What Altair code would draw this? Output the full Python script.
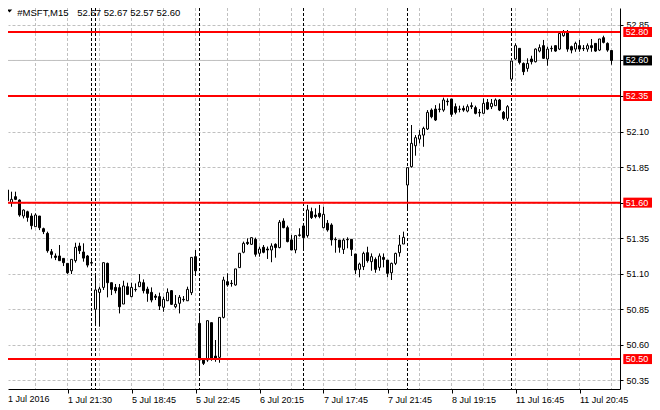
import altair as alt
import pandas as pd

# ---------------- data ----------------
opens = [51.607, 51.689, 51.600, 51.642, 51.618, 51.506, 51.536, 51.506, 51.431, 51.506,
         51.417, 51.384, 51.255, 51.225, 51.225, 51.208, 51.173, 51.121, 51.192, 51.295,
         51.253, 51.225, 51.178, 50.850, 50.969, 51.004, 51.173, 51.037, 51.004, 51.002,
         50.887, 51.009, 50.939, 50.990, 51.009, 51.037, 50.992, 50.969, 50.943, 50.939,
         50.864, 50.910, 50.981, 50.868, 50.892, 50.920, 50.910, 50.967, 51.220, 50.751,
         50.493, 50.493, 50.756, 50.521, 50.512, 50.793, 51.044, 51.033, 51.021, 51.143,
         51.251, 51.321, 51.307, 51.342, 51.244, 51.286, 51.274, 51.267, 51.307, 51.284,
         51.471, 51.424, 51.338, 51.267, 51.373, 51.436, 51.368, 51.537, 51.513, 51.525,
         51.424, 51.455, 51.443, 51.342, 51.337, 51.271, 51.342, 51.342, 51.239, 51.131,
         51.150, 51.248, 51.185, 51.201, 51.145, 51.215, 51.196, 51.107, 51.173, 51.248,
         51.309, 51.724, 51.853, 52.000, 52.047, 52.075, 52.118, 52.251, 52.258, 52.258,
         52.251, 52.314, 52.329, 52.275, 52.258, 52.263, 52.244, 52.282, 52.268, 52.235,
         52.228, 52.305, 52.275, 52.282, 52.322, 52.235, 52.193, 52.469, 52.610, 52.685,
         52.579, 52.544, 52.610, 52.591, 52.666, 52.704, 52.610, 52.685, 52.704, 52.680,
         52.774, 52.797, 52.697, 52.680, 52.704, 52.685, 52.680, 52.704, 52.720, 52.673,
         52.760, 52.720, 52.670]
highs = [51.700, 51.693, 51.677, 51.677, 51.623, 51.553, 51.543, 51.525, 51.525, 51.506,
         51.424, 51.396, 51.274, 51.243, 51.302, 51.208, 51.173, 51.201, 51.318, 51.318,
         51.314, 51.232, 51.196, 51.098, 51.009, 51.178, 51.178, 51.037, 51.028, 51.028,
         51.051, 51.037, 51.037, 51.032, 51.098, 51.060, 51.009, 51.004, 50.957, 50.967,
         50.939, 50.997, 50.985, 50.950, 50.950, 50.943, 51.009, 51.215, 51.267, 50.817,
         50.505, 50.770, 50.756, 50.634, 50.793, 51.079, 51.103, 51.056, 51.134, 51.244,
         51.326, 51.349, 51.354, 51.354, 51.291, 51.302, 51.291, 51.314, 51.314, 51.478,
         51.490, 51.438, 51.373, 51.368, 51.420, 51.436, 51.584, 51.565, 51.560, 51.584,
         51.572, 51.478, 51.455, 51.356, 51.337, 51.349, 51.356, 51.342, 51.239, 51.178,
         51.255, 51.290, 51.243, 51.215, 51.243, 51.243, 51.196, 51.178, 51.248, 51.372,
         51.396, 51.846, 52.146, 52.075, 52.111, 52.134, 52.251, 52.263, 52.286, 52.298,
         52.338, 52.333, 52.329, 52.298, 52.282, 52.282, 52.291, 52.305, 52.282, 52.258,
         52.333, 52.329, 52.329, 52.333, 52.329, 52.244, 52.286, 52.596, 52.720, 52.685,
         52.586, 52.615, 52.633, 52.685, 52.713, 52.744, 52.697, 52.704, 52.704, 52.790,
         52.814, 52.814, 52.704, 52.732, 52.744, 52.708, 52.720, 52.751, 52.720, 52.751,
         52.774, 52.727, 52.670]
lows = [51.529, 51.600, 51.571, 51.618, 51.501, 51.489, 51.466, 51.412, 51.431, 51.407,
        51.379, 51.248, 51.208, 51.196, 51.192, 51.154, 51.098, 51.098, 51.178, 51.239,
        51.185, 51.145, 51.161, 50.732, 50.728, 50.986, 50.934, 50.950, 50.962, 50.821,
        50.887, 50.950, 50.934, 50.974, 51.009, 50.962, 50.903, 50.899, 50.915, 50.845,
        50.833, 50.910, 50.880, 50.857, 50.821, 50.903, 50.910, 50.950, 51.084, 50.388,
        50.458, 50.481, 50.488, 50.481, 50.474, 50.786, 51.009, 51.009, 51.016, 51.143,
        51.244, 51.302, 51.302, 51.220, 51.220, 51.244, 51.204, 51.181, 51.213, 51.279,
        51.420, 51.321, 51.267, 51.244, 51.361, 51.274, 51.354, 51.485, 51.490, 51.490,
        51.420, 51.396, 51.298, 51.248, 51.248, 51.239, 51.279, 51.225, 51.098, 51.075,
        51.126, 51.178, 51.121, 51.107, 51.121, 51.145, 51.075, 51.056, 51.161, 51.220,
        51.309, 51.548, 51.846, 51.930, 52.017, 51.993, 52.111, 52.193, 52.174, 52.235,
        52.239, 52.282, 52.204, 52.221, 52.235, 52.239, 52.235, 52.258, 52.221, 52.204,
        52.228, 52.251, 52.258, 52.282, 52.244, 52.181, 52.174, 52.451, 52.603, 52.572,
        52.497, 52.521, 52.572, 52.586, 52.657, 52.610, 52.563, 52.661, 52.661, 52.673,
        52.767, 52.661, 52.650, 52.661, 52.661, 52.666, 52.661, 52.661, 52.661, 52.666,
        52.720, 52.661, 52.570]
closes = [51.670, 51.614, 51.623, 51.623, 51.513, 51.548, 51.496, 51.438, 51.513, 51.424,
          51.396, 51.262, 51.236, 51.215, 51.192, 51.178, 51.107, 51.201, 51.286, 51.262,
          51.210, 51.161, 51.175, 50.986, 50.993, 51.178, 51.037, 50.990, 50.981, 50.868,
          51.014, 50.955, 51.004, 50.988, 51.042, 50.981, 50.962, 50.915, 50.934, 50.873,
          50.920, 50.969, 50.885, 50.885, 50.934, 50.917, 50.990, 51.215, 51.121, 50.493,
          50.470, 50.770, 50.498, 50.498, 50.793, 51.056, 51.021, 51.031, 51.134, 51.244,
          51.314, 51.312, 51.354, 51.237, 51.274, 51.251, 51.267, 51.295, 51.284, 51.462,
          51.424, 51.326, 51.267, 51.368, 51.370, 51.354, 51.549, 51.495, 51.502, 51.502,
          51.518, 51.408, 51.338, 51.339, 51.286, 51.337, 51.339, 51.271, 51.126, 51.168,
          51.243, 51.192, 51.220, 51.131, 51.225, 51.201, 51.103, 51.173, 51.243, 51.302,
          51.356, 51.846, 52.017, 52.057, 52.075, 52.122, 52.235, 52.204, 52.181, 52.256,
          52.322, 52.310, 52.221, 52.235, 52.256, 52.251, 52.275, 52.275, 52.228, 52.232,
          52.298, 52.258, 52.298, 52.322, 52.251, 52.193, 52.275, 52.596, 52.704, 52.586,
          52.521, 52.579, 52.591, 52.680, 52.690, 52.615, 52.680, 52.683, 52.666, 52.790,
          52.797, 52.680, 52.673, 52.720, 52.680, 52.683, 52.704, 52.690, 52.666, 52.751,
          52.727, 52.673, 52.600]

symbol = "#MSFT,M15"
header_values = [52.67, 52.67, 52.57, 52.60]

red_levels = [52.80, 52.35, 51.60, 50.50]
bid_level = [52.60]
y_tick_values = [50.35, 50.60, 50.85, 51.10, 51.35, 51.60, 51.85, 52.10, 52.35, 52.60, 52.85]
x_tick_index = [0, 16, 32, 48, 64, 80, 96, 112, 128, 144]
x_tick_labels = ["1 Jul 2016", "1 Jul 21:30", "5 Jul 18:45", "5 Jul 22:45", "6 Jul 20:15",
                 "7 Jul 17:45", "7 Jul 21:45", "8 Jul 19:15", "11 Jul 16:45", "11 Jul 20:45"]
grid_index = list(range(8, 153, 8))
separator_index = [22, 23, 49, 75, 101, 127]

# ---------------- layout ----------------
W, H = 612, 381
FONT = "Liberation Sans"
GRAY = "#C0C0C0"
xs = alt.Scale(domain=[1.125, 154.125], nice=False, zero=False)
ys = alt.Scale(domain=[50.2895, 52.9688], nice=False, zero=False)

candles = pd.DataFrame({"k": list(range(len(opens))), "o": opens, "h": highs,
                        "l": lows, "c": closes})

label_expr = " : ".join(f"datum.value == {i} ? '{t}'" for i, t in zip(x_tick_index, x_tick_labels)) + " : ''"

x_axis = alt.Axis(values=x_tick_index, labelExpr=label_expr, labelAlign="left",
                  labelBaseline="top", labelPadding=2, labelFlush=False, labelOverlap=False,
                  tickSize=4, tickColor="black", domainColor="black", grid=False, title=None,
                  labelFont=FONT, labelFontSize=9, labelColor="black")
y_axis = alt.Axis(orient="right", values=y_tick_values, format=".2f", grid=True,
                  gridColor=GRAY, gridDash=[3, 2], gridWidth=1, tickSize=3, tickColor="black",
                  domainColor="black", labelPadding=3, labelFlush=False, labelOverlap=False,
                  labelFont=FONT, labelFontSize=9, labelColor="black", title=None)


def X(field):
    return alt.X(field, scale=xs, axis=x_axis)


def Y(field):
    return alt.Y(field, scale=ys, axis=y_axis)


base = alt.Chart(candles)

vgrid = alt.Chart(pd.DataFrame({"g": grid_index})).mark_rule(
    color=GRAY, strokeDash=[3, 2], strokeWidth=1).encode(
    x=X("g:Q"), y=alt.value(0), y2=alt.value(H))

seps = alt.Chart(pd.DataFrame({"s": separator_index})).mark_rule(
    color="black", strokeDash=[3, 2], strokeWidth=1).encode(
    x=X("s:Q"), y=alt.value(0), y2=alt.value(H))

bid = alt.Chart(pd.DataFrame({"b": bid_level})).mark_rule(color=GRAY, strokeWidth=1).encode(
    y=Y("b:Q"), x=alt.value(0), x2=alt.value(W))

wicks = base.mark_rule(color="black", strokeWidth=1, clip=True).encode(
    x=X("k:Q"), y=Y("l:Q"), y2="h:Q")

bodies = base.transform_calculate(
    x1="datum.k - 0.25", x2="datum.k + 0.25"
).mark_rect(stroke="black", strokeWidth=1, clip=True).encode(
    x=X("x1:Q"), x2="x2:Q", y=Y("o:Q"), y2="c:Q",
    fill=alt.condition("datum.c >= datum.o", alt.value("white"), alt.value("black")),
)

reds = alt.Chart(pd.DataFrame({"r": red_levels})).mark_rule(color="#FF0000", strokeWidth=2).encode(
    y=Y("r:Q"), x=alt.value(0), x2=alt.value(W))

box_df = pd.DataFrame({"v": red_levels + bid_level,
                       "col": ["#FF0000"] * len(red_levels) + ["black"] * len(bid_level)})
boxes = alt.Chart(box_df).mark_rect(yOffset=-5, y2Offset=5).encode(
    y=Y("v:Q"), y2="v:Q",
    x=alt.value(W + 3.3), x2=alt.value(W + 32.3),
    fill=alt.Fill("col:N", scale=None),
)
box_text = alt.Chart(box_df).mark_text(align="left", baseline="middle", color="white",
                                       font=FONT, fontSize=9).encode(
    y=Y("v:Q"), x=alt.value(W + 5.7),
    text=alt.Text("v:Q", format=".2f"),
)

# first date label sits at the clipped left edge: draw it as text at the plot start
first_label = alt.Chart(pd.DataFrame({"t": [x_tick_labels[0]]})).mark_text(
    align="left", baseline="top", color="black", font=FONT, fontSize=9).encode(
    x=alt.value(0), y=alt.value(H + 6), text="t:N")

hdr_df = pd.DataFrame({"sym": [symbol],
                       "vals": [" ".join(f"{v:.2f}" for v in header_values)]})
hdr_sym = alt.Chart(hdr_df).mark_text(align="left", baseline="alphabetic", color="black",
                                      font=FONT, fontSize=9.5).encode(
    x=alt.value(9.3), y=alt.value(7.8), text="sym:N")
hdr_vals = alt.Chart(hdr_df).mark_text(align="left", baseline="alphabetic", color="black",
                                       font=FONT, fontSize=9.5).encode(
    x=alt.value(69.3), y=alt.value(7.8), text="vals:N")
tri = alt.Chart(hdr_df).mark_point(shape="M-1,-0.55L1,-0.55L0,0.55Z", filled=True,
                                   color="black", opacity=1, size=30).encode(
    x=alt.value(1.5), y=alt.value(3))

chart = alt.layer(vgrid, seps, bid, wicks, bodies, reds, boxes, box_text, first_label,
                  hdr_sym, hdr_vals, tri).properties(
    width=W, height=H,
    autosize=alt.AutoSizeParams(type="none"),
    padding={"left": 0, "top": 0, "right": 32, "bottom": 18},
    background="white",
).configure_view(stroke=None)

chart.save("out.html", embed_options={"renderer": "svg", "actions": False})
